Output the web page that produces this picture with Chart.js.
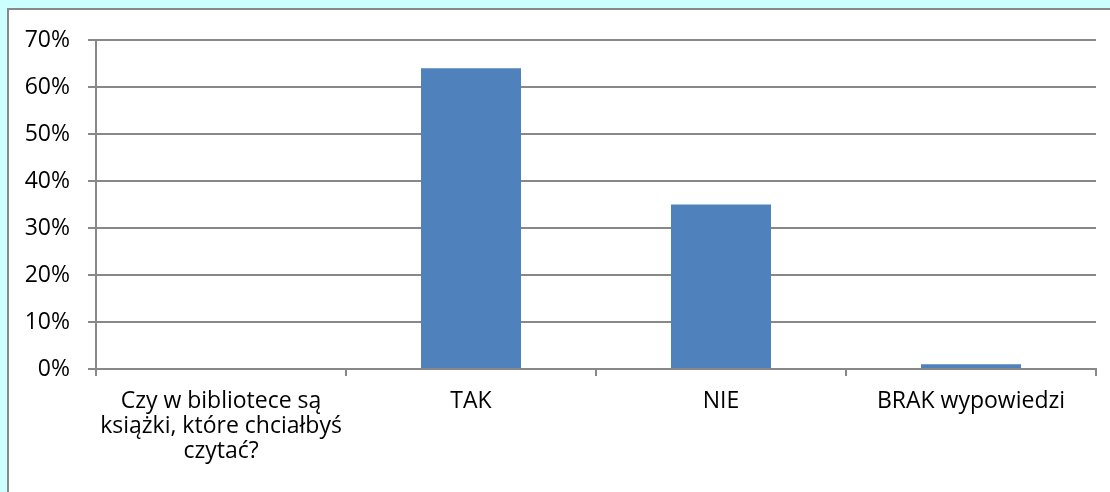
<!DOCTYPE html>
<html>
<head>
<meta charset="utf-8">
<script src="https://cdn.jsdelivr.net/npm/chart.js@4/dist/chart.umd.min.js"></script>
<style>
html,body{margin:0;padding:0;background:#ccffff;width:1110px;height:492px;overflow:hidden}
#box{position:absolute;left:7px;top:8px;width:1110px;height:500px;background:#fff;border:2px solid #888;box-sizing:border-box}
#wrap{position:absolute;left:0;top:0;width:1110px;height:492px}
</style>
</head>
<body>
<div id="box"></div>
<div id="wrap"><canvas id="c"></canvas></div>
<script>
// categories and values (percent)
const categories=[["Czy w bibliotece są","książki, które chciałbyś","czytać?"],"TAK","NIE","BRAK wypowiedzi"];
const values=[null,64,35,1];
const yTicks=[0,10,20,30,40,50,60,70];

const font={family:"'Open Sans', 'Noto Sans', sans-serif",size:23,lineHeight:1.08};

new Chart(document.getElementById("c"),{
  type:"bar",
  data:{
    labels:categories,
    datasets:[{data:values,backgroundColor:"#4f81bd",barPercentage:0.4,categoryPercentage:1}]
  },
  options:{
    responsive:true,maintainAspectRatio:false,animation:false,
    layout:{padding:{top:40,right:14,left:0,bottom:0}},
    plugins:{legend:{display:false},tooltip:{enabled:false}},
    scales:{
      x:{
        grid:{offset:true,drawOnChartArea:false,color:"#888",tickLength:7,lineWidth:2},
        border:{color:"#888",width:2},
        ticks:{color:"#000",font:font,padding:13,maxRotation:0,autoSkip:false},
        afterFit:s=>{s.height=123;}
      },
      y:{
        min:0,max:70,
        afterBuildTicks:s=>{s.ticks=yTicks.map(v=>({value:v}));},
        grid:{color:"#888",tickLength:8,lineWidth:2},
        border:{color:"#888",width:2},
        ticks:{color:"#000",font:font,padding:18,callback:v=>v+"%"},
        afterFit:s=>{s.width=96;}
      }
    }
  }
});
</script>
</body>
</html>
